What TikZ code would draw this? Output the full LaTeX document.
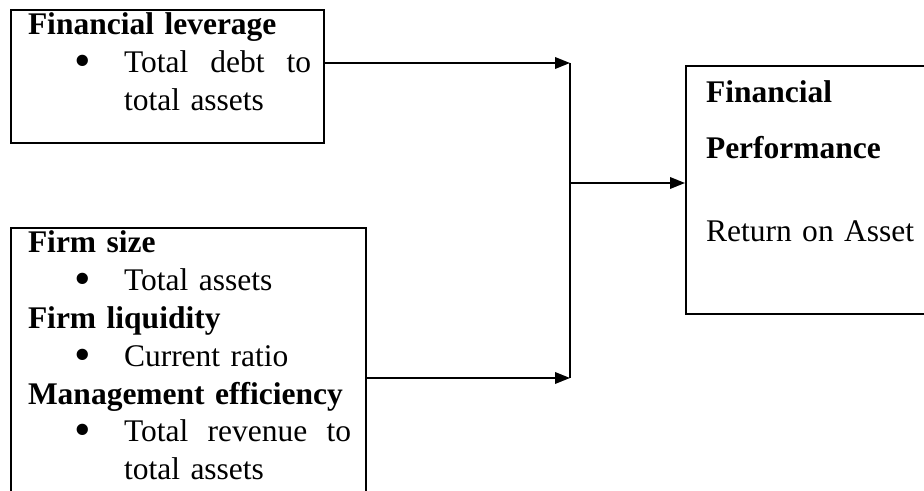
\documentclass[tikz,border=0pt]{standalone}
\usepackage{fontspec}
\setmainfont{Liberation Serif}
\usetikzlibrary{arrows.meta}
\newcommand{\itm}[1]{\makebox[38.4pt][l]{\hspace{18.7pt}\raisebox{-1.5pt}{\scalebox{1.5}{\textbullet}}}#1}
\newcommand{\itmcont}[1]{\hspace*{38.4pt}#1}

\begin{document}
\begin{tikzpicture}[x=0.4pt, y=-0.4pt, line width=0.8pt,
    >={Triangle[length=6pt,width=4.6pt]},
    font=\fontsize{12.6}{15.1}\selectfont,
    caja/.style={draw, rectangle, anchor=north west, inner sep=0pt},
    texto/.style={anchor=base west, inner sep=0pt, text width=150pt, align=left}]
    \useasboundingbox (0,0) rectangle (924,491);

    % Cajas
    \node[caja, minimum width=125.2pt, minimum height=53.2pt] (lev) at (10,9) {};
    \node[caja, minimum width=142pt, minimum height=107.6pt] (ctrl) at (10,227) {};
    \node[caja, minimum width=102pt, minimum height=99.2pt] (perf) at (685,65) {};

    % Textos
    \node[texto] (levtxt) at (27,35) {\textbf{Financial leverage}\\
        \itm{\makebox[74.8pt]{Total\hfill debt\hfill to}}\\
        \itmcont{total assets}};
    \node[texto] (ctrltxt) at (27,253) {\textbf{Firm size}\\
        \itm{Total assets}\\
        \textbf{Firm liquidity}\\
        \itm{Current ratio}\\
        \textbf{Management efficiency}\\
        \itm{\makebox[90.8pt]{Total\hfill revenue\hfill to}}\\
        \itmcont{total assets}};
    \node[texto] (perftxt) at (705,103) {\textbf{Financial}\\[7.2pt]
        \textbf{Performance}\\[18pt]
        Return on Asset};

    % Uniones
    \coordinate (jtop) at (570,63);
    \coordinate (jmid) at (570,183);
    \coordinate (jbot) at (570,378);

    % Flechas
    \draw[->] (lev.east |- jtop) -- (jtop);
    \draw[->] (ctrl.east |- jbot) -- (jbot);
    \draw (jtop) -- (jbot);
    \draw[->] (jmid) -- (perf.west |- jmid);
\end{tikzpicture}
\end{document}
